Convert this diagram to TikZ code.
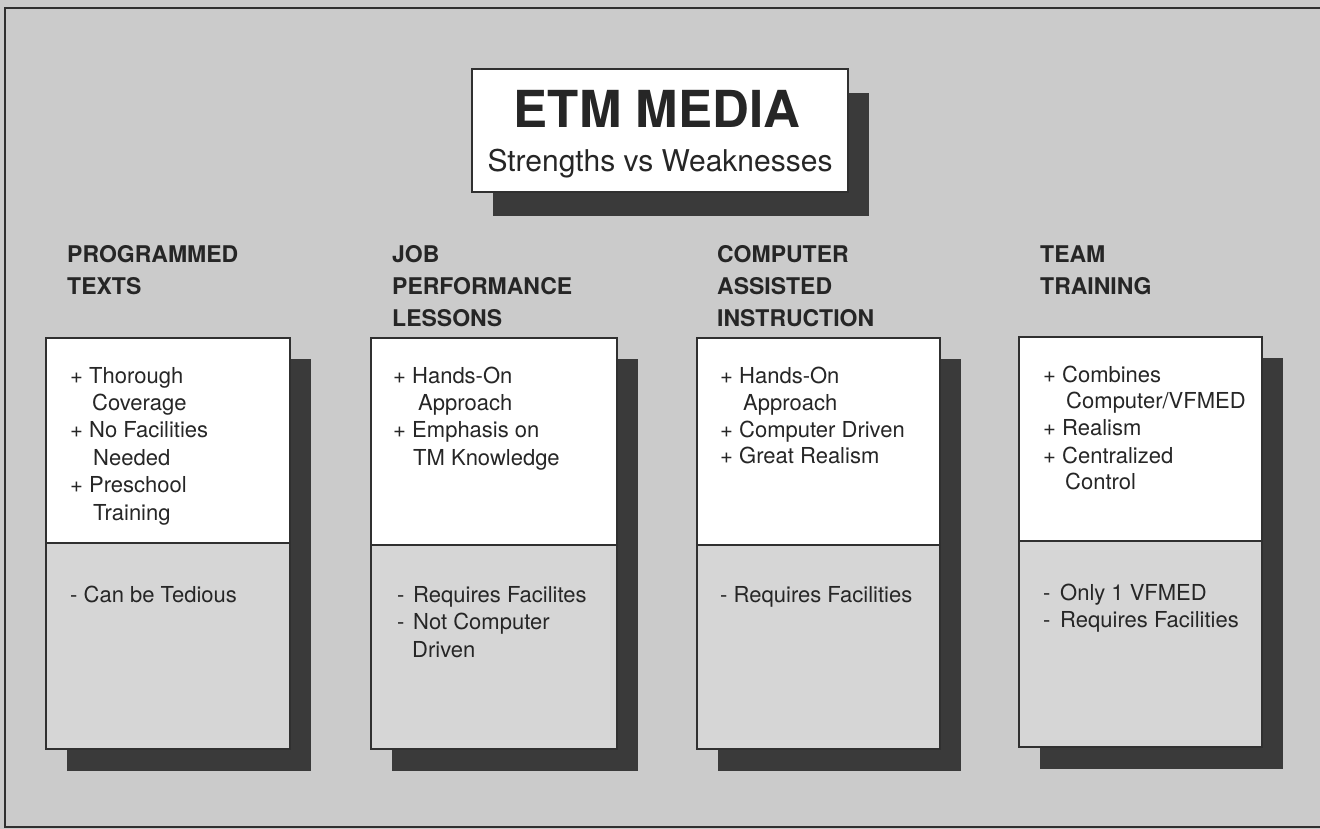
\documentclass[tikz,border=0pt]{standalone}
\usepackage{fontspec}
\setmainfont{TeX Gyre Heros}
\definecolor{bg}{HTML}{CBCBCB}
\definecolor{lowfill}{HTML}{D6D6D6}
\definecolor{shadowc}{HTML}{3A3A3A}
\definecolor{ink}{HTML}{262626}
\definecolor{edge}{HTML}{303030}
\newcommand\tline[4]{\node[bodytxt] (#1) at (#2,#3) {#4};}
\newcommand\hdline[4]{\node[headtxt] (#1) at (#2,#3) {#4};}
% name, L, R, T, D, B
\newcommand\colbox[6]{%
  \fill[shadowc] (#2+21,#4+21) rectangle (#3+21,#6+22);
  \node[boxtop, minimum width={#3pt-#2pt}, minimum height={#5pt-#4pt}] (#1top) at (#2,#4) {};
  \node[boxbot, minimum width={#3pt-#2pt}, minimum height={#6pt-#5pt}] (#1bot) at (#2,#5) {};
}
\begin{document}
\begin{tikzpicture}[x=1pt,y=-1pt,
  bodytxt/.style={anchor=base west, inner sep=0pt, text=ink, font=\fontsize{22}{26}\selectfont},
  headtxt/.style={anchor=base west, inner sep=0pt, text=ink, font=\fontsize{23}{30}\selectfont\bfseries},
  boxtop/.style={anchor=north west, draw=edge, line width=1.5pt, fill=white, inner sep=0pt, outer sep=0pt},
  boxbot/.style={anchor=north west, draw=edge, line width=1.5pt, fill=lowfill, inner sep=0pt, outer sep=0pt},
  frame/.style={draw=edge, line width=2pt}]
\useasboundingbox (0,0) rectangle (1320,829);
\fill[bg] (0,0) rectangle (1320,829);
\draw[frame] (5,8) rectangle (1326,827);

% title
\fill[shadowc] (493,93) rectangle (869,216);
\node[boxtop, minimum width=376pt, minimum height=123pt] (titlebox) at (472,69) {};
\node[anchor=base, inner sep=0pt, text=ink, font=\fontsize{51}{56}\selectfont\bfseries] (title) at (657,128) {ETM MEDIA};
\node[anchor=base, inner sep=0pt, text=ink, font=\fontsize{30}{34}\selectfont] (subtitle) at (660,172) {Strengths vs Weaknesses};

% column boxes
\colbox{a}{46}{290}{338}{543}{749}
\colbox{b}{371}{617}{338}{545}{749}
\colbox{c}{697}{940}{338}{545}{749}
\colbox{d}{1019}{1262}{337}{541}{747}

% headers
\hdline{ha1}{67}{262}{PROGRAMMED}
\hdline{ha2}{67}{294}{TEXTS}
\hdline{hb1}{392}{262}{JOB}
\hdline{hb2}{392}{294}{PERFORMANCE}
\hdline{hb3}{392}{326}{LESSONS}
\hdline{hc1}{717}{262}{COMPUTER}
\hdline{hc2}{717}{294}{ASSISTED}
\hdline{hc3}{717}{326}{INSTRUCTION}
\hdline{hd1}{1040}{262}{TEAM}
\hdline{hd2}{1040}{294}{TRAINING}

% column 1
\tline{a1}{70}{383}{+ Thorough}
\tline{a2}{92}{410}{Coverage}
\tline{a3}{70}{437}{+ No Facilities}
\tline{a4}{93}{465}{Needed}
\tline{a5}{70}{492}{+ Preschool}
\tline{a6}{93}{520}{Training}
\tline{a7}{70}{602}{- Can be Tedious}

% column 2
\tline{b1}{393}{383}{+ Hands-On}
\tline{b2}{418}{410}{Approach}
\tline{b3}{393}{437}{+ Emphasis on}
\tline{b4}{413}{465}{TM Knowledge}
\tline{b5}{397}{602}{-}
\tline{b6}{413}{602}{Requires Facilites}
\tline{b7}{397}{629}{-}
\tline{b8}{413}{629}{Not Computer}
\tline{b9}{412}{657}{Driven}

% column 3
\tline{c1}{720}{383}{+ Hands-On}
\tline{c2}{743}{410}{Approach}
\tline{c3}{720}{437}{+ Computer Driven}
\tline{c4}{720}{463}{+ Great Realism}
\tline{c5}{720}{602}{- Requires Facilities}

% column 4
\tline{d1}{1043}{382}{+ Combines}
\tline{d2}{1066}{408}{Computer/VFMED}
\tline{d3}{1043}{435}{+ Realism}
\tline{d4}{1043}{463}{+ Centralized}
\tline{d5}{1065}{489}{Control}
\tline{d6}{1043}{600}{-}
\tline{d7}{1060}{600}{Only 1 VFMED}
\tline{d8}{1043}{627}{-}
\tline{d9}{1060}{627}{Requires Facilities}
\end{tikzpicture}
\end{document}
